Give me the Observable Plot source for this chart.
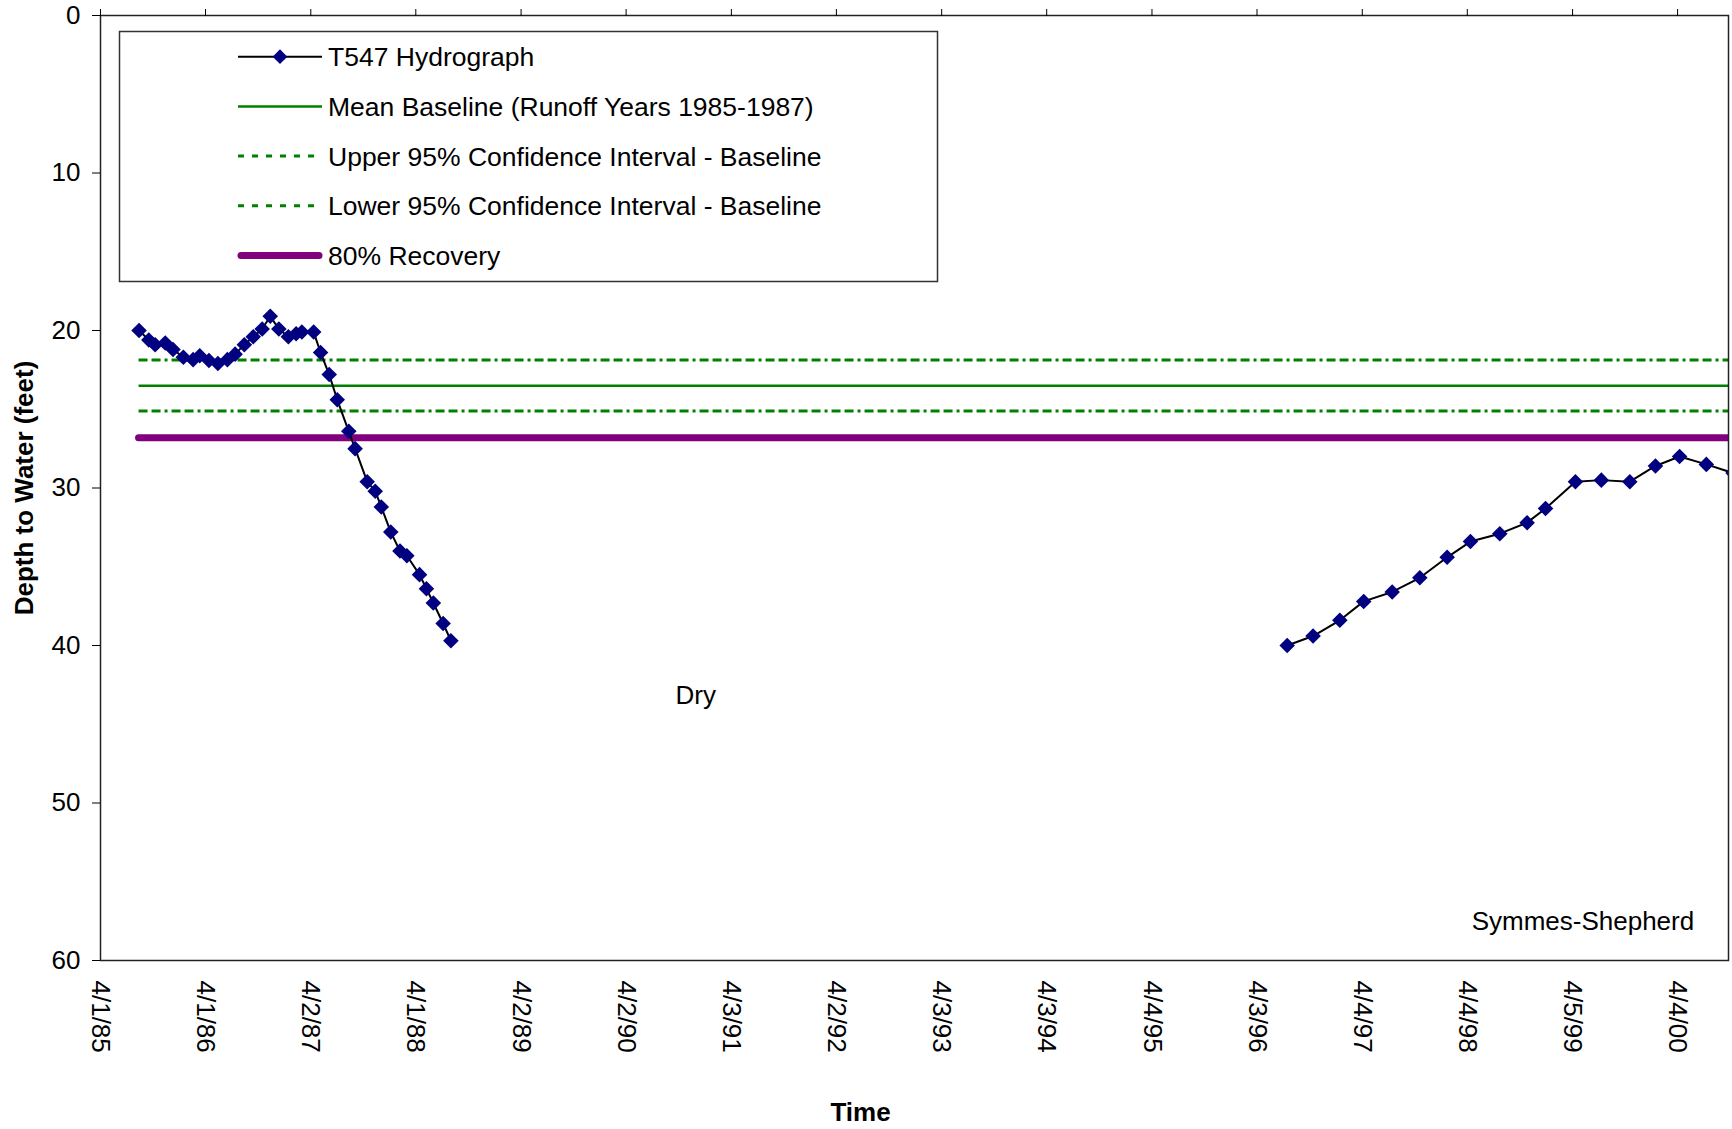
<!DOCTYPE html>
<html>
<head>
<meta charset="utf-8">
<script src="https://cdn.jsdelivr.net/npm/d3@7"></script>
<script src="https://cdn.jsdelivr.net/npm/@observablehq/plot@0.6"></script>
<style>
html, body { margin: 0; padding: 0; background: #fff; overflow: hidden; }
#wrap { position: relative; width: 1732px; height: 1129px; }
#wrap svg { display: block; }
</style>
</head>
<body>
<div id="wrap"></div>
<script>
// ---------- data ----------
const seg1Dates = ["1985-08-13","1985-09-16","1985-10-08","1985-11-12","1985-12-09","1986-01-14","1986-02-17","1986-03-12","1986-04-13","1986-05-14","1986-06-16","1986-07-13","1986-08-14","1986-09-14","1986-10-15","1986-11-12","1986-12-12","1987-01-14","1987-02-10","1987-03-02","1987-04-12","1987-05-06","1987-06-05","1987-07-03","1987-08-12","1987-09-03","1987-10-15","1987-11-12","1987-12-03","1988-01-05","1988-02-06","1988-03-01","1988-04-14","1988-05-08","1988-06-01","1988-07-05","1988-08-01"];
const seg1Depths = [20.0,20.6,20.9,20.8,21.2,21.7,21.85,21.6,21.9,22.1,21.85,21.5,20.9,20.4,19.9,19.1,19.9,20.4,20.2,20.1,20.1,21.4,22.8,24.4,26.4,27.5,29.6,30.2,31.2,32.8,34.0,34.3,35.5,36.4,37.3,38.6,39.7];
const seg2Dates = ["1996-07-17","1996-10-15","1997-01-16","1997-04-09","1997-07-17","1997-10-21","1998-01-24","1998-04-15","1998-07-26","1998-10-29","1999-01-01","1999-04-15","1999-07-14","1999-10-21","2000-01-18","2000-04-11","2000-07-13","2000-10-14"];
const seg2Depths = [40.0,39.4,38.4,37.2,36.6,35.7,34.4,33.4,32.9,32.2,31.3,29.6,29.5,29.6,28.6,28.0,28.5,29.05];

const baselineKinds = ["upper","mean","lower","recovery"];
const baselineDepths = [21.87, 23.5, 25.11, 26.81];

const tickDates = ["1985-04-01","1986-04-01","1987-04-02","1988-04-01","1989-04-02","1990-04-02","1991-04-03","1992-04-02","1993-04-03","1994-04-03","1995-04-04","1996-04-03","1997-04-04","1998-04-04","1999-04-05","2000-04-04"];
const tickLabels = ["4/1/85","4/1/86","4/2/87","4/1/88","4/2/89","4/2/90","4/3/91","4/2/92","4/3/93","4/3/94","4/4/95","4/3/96","4/4/97","4/4/98","4/5/99","4/4/00"];
const yTicks = [0,10,20,30,40,50,60];
const xDomain = ["1985-04-01","2000-09-28"];

const legendLabels = ["T547 Hydrograph","Mean Baseline (Runoff Years 1985-1987)","Upper 95% Confidence Interval - Baseline","Lower 95% Confidence Interval - Baseline","80% Recovery"];
const annotLabels = ["Dry","Symmes-Shepherd"];
const annotDates = ["1990-11-30","1999-05-11"];
const annotDepths = [43.2, 57.56];
const xTitle = "Time";
const yTitle = "Depth to Water (feet)";

// ---------- build ----------
const parse = s => new Date(s + "T00:00:00Z");
const hydro = [
  ...seg1Dates.map((d, i) => ({date: parse(d), depth: seg1Depths[i], seg: 1})),
  ...seg2Dates.map((d, i) => ({date: parse(d), depth: seg2Depths[i], seg: 2}))
];
const startDate = hydro[0].date, endDate = hydro[hydro.length - 1].date;
const baselines = baselineKinds.map((k, i) => ({kind: k, depth: baselineDepths[i], x1: startDate, x2: endDate}));
const annots = annotLabels.map((t, i) => ({label: t, date: parse(annotDates[i]), depth: annotDepths[i]}));
const tickLabelOf = new Map(tickDates.map((d, i) => [+parse(d), tickLabels[i]]));
const tickValues = tickDates.map(parse);

const FONT = "'Liberation Sans', Arial, Helvetica, sans-serif";
const GREEN = "#008000", PURPLE = "#800080", NAVY = "#000080";

const chart = Plot.plot({
  width: 1732, height: 1129,
  marginLeft: 100, marginRight: 4, marginTop: 15, marginBottom: 169,
  style: {fontFamily: FONT, fontSize: "26px", color: "#000", background: "#fff"},
  x: {type: "utc", domain: xDomain.map(parse)},
  y: {domain: [0, 60], reverse: true},
  marks: [
    Plot.ruleY(baselines.filter(b => b.kind === "upper" || b.kind === "lower"),
      {y: "depth", x1: "x1", x2: "x2", stroke: GREEN, strokeWidth: 3, strokeDasharray: "9,4,9,4,3,4", clip: true}),
    Plot.ruleY(baselines.filter(b => b.kind === "mean"),
      {y: "depth", x1: "x1", x2: "x2", stroke: GREEN, strokeWidth: 2.5, clip: true}),
    Plot.ruleY(baselines.filter(b => b.kind === "recovery"),
      {y: "depth", x1: "x1", x2: "x2", stroke: PURPLE, strokeWidth: 7, strokeLinecap: "round", clip: true}),
    Plot.line(hydro, {x: "date", y: "depth", z: "seg", stroke: "#000", strokeWidth: 2, clip: true}),
    Plot.dot(hydro, {x: "date", y: "depth", symbol: "diamond2", r: 7, fill: NAVY, clip: true}),
    Plot.text(annots, {x: "date", y: "depth", text: "label", fontSize: 26, fill: "#000"}),
    Plot.frame({stroke: "#222", strokeWidth: 1.5}),
    Plot.axisY({ticks: yTicks, tickSize: 8, tickPadding: 12, fontSize: 26, label: null, tickFormat: d => String(d)}),
    Plot.axisX({anchor: "top", ticks: tickValues, tickSize: 7, tickFormat: () => "", label: null}),
    Plot.axisX({anchor: "bottom", ticks: tickValues, tickSize: 0, tickPadding: 20, tickRotate: 90,
      tickFormat: d => tickLabelOf.get(+d), fontSize: 26, label: null}),
    Plot.text([yTitle], {text: d => d, frameAnchor: "left", textAnchor: "middle", lineAnchor: "middle",
      dx: -76, rotate: -90, fontWeight: "bold", fontSize: 26}),
    Plot.text([xTitle], {text: d => d, frameAnchor: "bottom", textAnchor: "middle", lineAnchor: "middle",
      dx: -54, dy: 152, fontWeight: "bold", fontSize: 26})
  ]
});
const wrap = document.getElementById("wrap");
wrap.appendChild(chart);

// ---------- legend (drawn inside the plot area) ----------
const leg = d3.create("svg")
  .attr("width", 1732).attr("height", 1129)
  .style("position", "absolute").style("left", "0px").style("top", "0px")
  .style("pointer-events", "none")
  .style("font-family", FONT);
leg.append("rect").attr("x", 119.5).attr("y", 31.5).attr("width", 818).attr("height", 250)
  .attr("fill", "#fff").attr("stroke", "#333").attr("stroke-width", 1.5);
const rowY = i => 56.7 + i * 49.7;
const sx1 = 238, sx2 = 322;
legendLabels.forEach((lab, i) => {
  const y = rowY(i);
  const g = leg.append("g");
  if (i === 0) {
    g.append("line").attr("x1", sx1).attr("x2", sx2).attr("y1", y).attr("y2", y).attr("stroke", "#000").attr("stroke-width", 2);
    g.append("path").attr("d", d3.symbol(d3.symbolDiamond2, Math.PI * 6.6 * 6.6)()).attr("transform", `translate(${(sx1 + sx2) / 2},${y})`).attr("fill", NAVY);
  } else if (i === 1) {
    g.append("line").attr("x1", sx1).attr("x2", sx2).attr("y1", y).attr("y2", y).attr("stroke", GREEN).attr("stroke-width", 2.5);
  } else if (i === 2 || i === 3) {
    g.append("line").attr("x1", sx1).attr("x2", sx2).attr("y1", y).attr("y2", y).attr("stroke", GREEN).attr("stroke-width", 3).attr("stroke-dasharray", "6,8");
  } else {
    g.append("line").attr("x1", sx1 + 3).attr("x2", sx2 - 3).attr("y1", y).attr("y2", y).attr("stroke", PURPLE).attr("stroke-width", 7).attr("stroke-linecap", "round");
  }
  g.append("text").attr("x", 328).attr("y", y + 9.5).attr("font-size", 26.5).attr("fill", "#000").text(lab);
});
wrap.appendChild(leg.node());
</script>
</body>
</html>
